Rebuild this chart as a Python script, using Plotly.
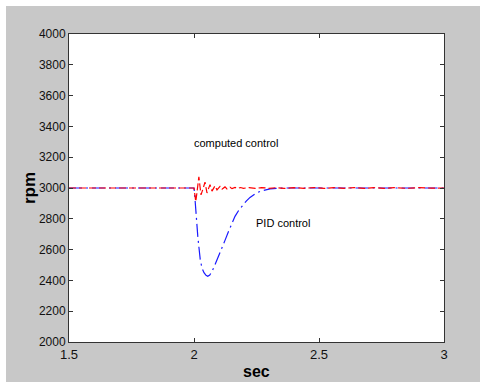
import plotly.graph_objects as go

# PID control response (blue, dash-dot)
pid_t = [1.5, 1.8, 2.000, 2.003, 2.005, 2.009, 2.015, 2.020, 2.025, 2.032, 2.040, 2.048,
         2.055, 2.063, 2.072, 2.084, 2.097, 2.111, 2.124, 2.138, 2.151, 2.164, 2.179,
         2.193, 2.209, 2.224, 2.244, 2.264, 2.284, 2.304, 2.330, 2.360, 2.7, 3.0]
pid_rpm = [3000, 3000, 3000, 2950, 2900, 2800, 2690, 2610, 2535, 2480, 2450, 2433,
           2427, 2435, 2458, 2502, 2550, 2600, 2660, 2718, 2770, 2816, 2855,
           2885, 2915, 2939, 2962, 2978, 2988, 2994, 2998, 3000, 3000, 3000]

# Computed control response (red, dashed)
cc_t = [1.5, 1.8, 2.000, 2.004, 2.007, 2.011, 2.015, 2.0195, 2.024, 2.028, 2.036, 2.044,
        2.052, 2.058, 2.064, 2.072, 2.078, 2.084, 2.092, 2.104, 2.112, 2.124, 2.132,
        2.144, 2.152, 2.164, 2.174, 2.186, 2.198, 2.22, 2.245, 2.27, 2.30, 2.33, 2.36,
        2.40, 2.44, 2.48, 2.52, 2.56, 2.60, 2.64, 2.68, 2.72, 2.76, 2.80, 2.85, 2.90,
        2.95, 3.0]
cc_rpm = [3000, 3000, 3000, 2950, 2912, 2960, 3030, 3072, 3010, 2955, 2995, 3038,
          2968, 3000, 3022, 2980, 3000, 3014, 2988, 3010, 2992, 3007, 2994,
          3005, 2996, 3004, 2997, 3003, 2998, 3003, 2997, 3003, 2998, 3002, 2997,
          3002, 2998, 3003, 2997, 3002, 2998, 3003, 2997, 3002, 2998, 3002, 2998, 3002,
          2999, 3000]

x_ticks = [1.5, 2, 2.5, 3]
x_tick_text = ["1.5", "2", "2.5", "3"]
y_ticks = list(range(2000, 4001, 200))

# page offset 6px (white border), figure fills the rest of the 486x382 window
OFF = 6
W, H = 486 - OFF, 382 - OFF
L, R, T, B = 68.5 - OFF, 41.5, 34 - OFF, 39.5

fig = go.Figure()
fig.add_trace(go.Scatter(x=pid_t, y=pid_rpm, mode="lines",
                         line=dict(color="#1a1aff", width=1.2, dash="13px,4px,2px,4px"),
                         showlegend=False))
fig.add_trace(go.Scatter(x=cc_t, y=cc_rpm, mode="lines",
                         line=dict(color="#ff0000", width=1.2, dash="7px,3px"),
                         showlegend=False))

font = dict(family="Liberation Sans, Arial, sans-serif", size=11, color="black")

fig.update_xaxes(range=[1.5, 3], tickvals=x_ticks, ticktext=x_tick_text,
                 ticks="inside", ticklen=4, tickcolor="#333", showline=True,
                 linecolor="#333", linewidth=1, mirror="ticks", showgrid=False,
                 zeroline=False, tickfont=dict(size=13, family=font["family"], color="#111"))
fig.update_yaxes(range=[2000, 4000], tickvals=y_ticks,
                 ticks="inside", ticklen=4, tickcolor="#333", showline=True,
                 linecolor="#333", linewidth=1, mirror="ticks", showgrid=False,
                 zeroline=False, tickfont=dict(size=12, family=font["family"], color="#111"))

annotations = [
    dict(x=1.99, y=3293, xref="x", yref="y", text="computed control", showarrow=False,
         xanchor="left", yanchor="middle", font=font),
    dict(x=2.241, y=2773, xref="x", yref="y", text="PID control", showarrow=False,
         xanchor="left", yanchor="middle", font=font),
    dict(x=0.5, y=0, xref="paper", yref="paper", text="<b>sec</b>", showarrow=False,
         xanchor="center", yanchor="middle", yshift=-29,
         font=dict(family=font["family"], size=16, color="black")),
    dict(x=0, y=0.5, xref="paper", yref="paper", text="<b>rpm</b>", showarrow=False,
         xanchor="center", yanchor="middle", xshift=-40, textangle=-90,
         font=dict(family=font["family"], size=17, color="black")),
]

fig.update_layout(width=W, height=H, margin=dict(l=L, r=R, t=T, b=B, pad=0),
                  paper_bgcolor="#c8c8c8", plot_bgcolor="white",
                  annotations=annotations, font=font)

fig.write_html("out.html",
               post_script="document.body.style.margin='%dpx';document.body.style.overflow='hidden';" % OFF)
